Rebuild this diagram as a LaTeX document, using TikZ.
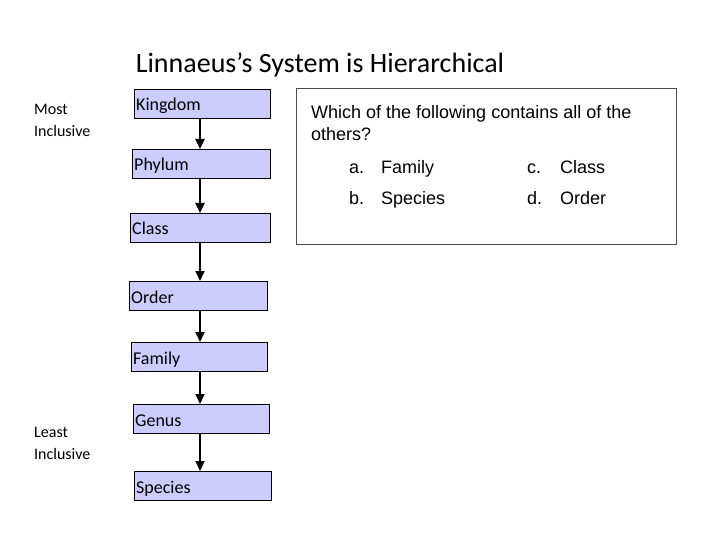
\documentclass[tikz,border=0pt]{standalone}
\usepackage{fontspec}
\setmainfont{Carlito}
\newfontfamily\arialf{Liberation Sans}
\usetikzlibrary{arrows.meta}
\definecolor{lav}{RGB}{204,204,255}
\begin{document}
\begin{tikzpicture}[x=1pt,y=-1pt,
  arr/.style={-{Triangle[length=10pt,width=9pt]},line width=1.8pt},
  lbl/.style={font=\fontsize{16}{22}\selectfont,align=left,anchor=north west,inner sep=0pt}]
\useasboundingbox (0,0) rectangle (720,540);
\node[font=\fontsize{28}{32}\selectfont,anchor=base] (title) at (320,73) {Linnaeus's System is Hierarchical};
\node[lbl] (most) at (34,104) {Most\\Inclusive};
\node[lbl] (least) at (34,427) {Least\\Inclusive};
\foreach \n/\t/\x/\y/\w in {k/Kingdom/134/89/136, p/Phylum/132/149/138, c/Class/130/213/140, o/Order/129/281/138, f/Family/131/342/136, g/Genus/133/404/136, s/Species/134/471/137}{
  \draw[draw=black,fill=lav,line width=0.8pt] (\x,\y) rectangle ++(\w,29);
  \node[anchor=base west,inner sep=0pt,font=\fontsize{18}{20}\selectfont] (\n) at (\x+2,\y+22) {\t};
  \coordinate (\n t) at (200,\y);
  \coordinate (\n b) at (200,\y+29);
}
\draw[arr] (kb) -- (pt);
\draw[arr] (pb) -- (ct);
\draw[arr] (cb) -- (ot);
\draw[arr] (ob) -- (ft);
\draw[arr] (fb) -- (gt);
\draw[arr] (gb) -- (st);
\draw[draw=black!70,line width=0.6pt] (296,88) rectangle (676,244);
\node[anchor=north west,inner sep=0pt,font=\arialf\fontsize{18}{22}\selectfont,align=left] (q) at (311,105) {Which of the following contains all of the\\others?};
\begin{scope}[every node/.style={anchor=base west,inner sep=0pt,font=\arialf\fontsize{18}{20}\selectfont}]
\node (a1) at (349,174) {a.}; \node (a2) at (381,174) {Family};
\node (c1) at (527,174) {c.}; \node (c2) at (560,174) {Class};
\node (b1) at (349,205) {b.}; \node (b2) at (381,205) {Species};
\node (d1) at (527,205) {d.}; \node (d2) at (560,205) {Order};
\end{scope}
\end{tikzpicture}
\end{document}
